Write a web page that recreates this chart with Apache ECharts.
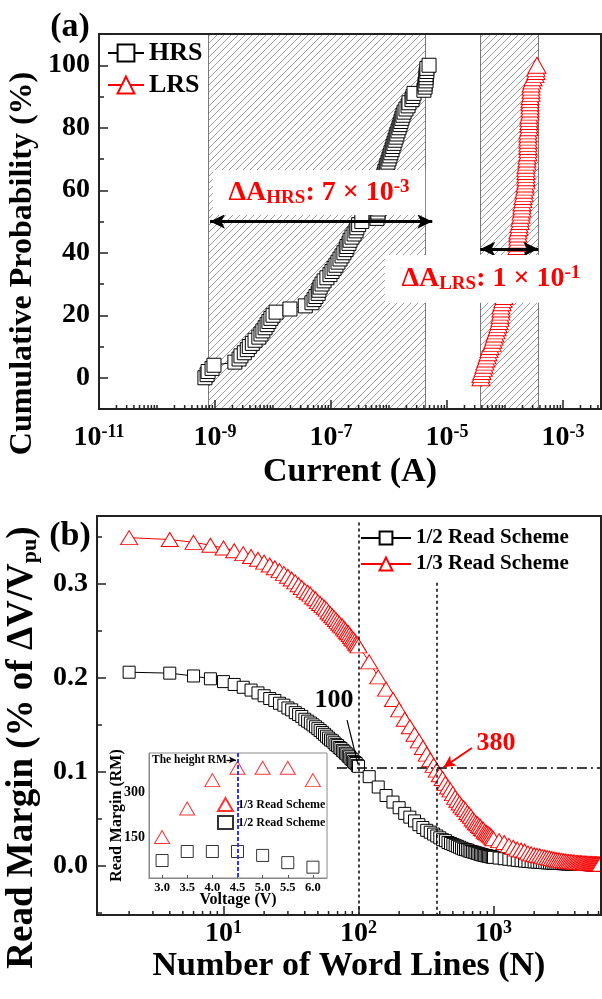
<!DOCTYPE html>
<html>
<head>
<meta charset="utf-8">
<script src="https://cdn.jsdelivr.net/npm/echarts/dist/echarts.min.js"></script>
<style>html,body{margin:0;padding:0;background:#fff}#c{width:602px;height:999px}</style>
</head>
<body>
<div id="c"></div>
<script>
// ================= DATA =================
// Panel (a): cumulative probability (%) vs current (A)
const cumProb = [0,1,2,3,4,5,6,7,8,9,10,11,12,13,14,15,16,17,18,19,20,21,22,23,24,25,26,27,28,29,30,31,32,33,34,35,36,37,38,39,40,41,42,43,44,45,46,47,48,49,50,51,52,53,54,55,56,57,58,59,60,61,62,63,64,65,66,67,68,69,70,71,72,73,74,75,76,77,78,79,80,81,82,83,84,85,86,87,88,89,90,91,92,93,94,95,96,97,98,99,100];
const hrsCurrent = [6.7e-10,7.3e-10,7.6e-10,8.9e-10,9.6e-10,2.2e-9,2.6e-9,2.8e-9,3.2e-9,3.6e-9,
3.9e-9,4.4e-9,4.9e-9,5.7e-9,6.2e-9,6.7e-9,7.3e-9,7.9e-9,8.5e-9,9.2e-9,
1.0e-8,1.13e-8,1.96e-8,3.6e-8,4.7e-8,5.1e-8,5.5e-8,6.0e-8,6.2e-8,6.5e-8,
7.0e-8,7.6e-8,8.5e-8,9.6e-8,1.04e-7,1.13e-7,1.22e-7,1.32e-7,1.43e-7,1.55e-7,
1.67e-7,1.82e-7,1.89e-7,2.04e-7,2.13e-7,2.3e-7,2.5e-7,2.7e-7,2.8e-7,3.0e-7,
3.4e-7,6.2e-7,6.45e-7,6.45e-7,6.7e-7,6.7e-7,7.0e-7,7.0e-7,7.3e-7,7.3e-7,
7.6e-7,7.6e-7,7.9e-7,7.9e-7,8.2e-7,8.2e-7,8.5e-7,8.9e-7,9.2e-7,9.6e-7,
1.0e-6,1.04e-6,1.08e-6,1.13e-6,1.17e-6,1.22e-6,1.27e-6,1.32e-6,1.37e-6,1.43e-6,
1.49e-6,1.55e-6,1.61e-6,1.67e-6,1.74e-6,1.82e-6,1.96e-6,2.13e-6,2.21e-6,2.49e-6,
2.59e-6,2.7e-6,4.0e-6,4.18e-6,4.18e-6,4.35e-6,4.35e-6,4.35e-6,4.5e-6,4.5e-6,4.9e-6];
const lrsCurrent = [3.85e-5,3.85e-5,4.0e-5,4.2e-5,4.35e-5,4.5e-5,4.7e-5,4.9e-5,5.1e-5,5.3e-5,
5.5e-5,6.0e-5,6.2e-5,6.45e-5,6.7e-5,7.0e-5,7.3e-5,7.6e-5,7.9e-5,8.2e-5,
8.2e-5,8.5e-5,8.5e-5,8.5e-5,8.9e-5,9.2e-5,9.6e-5,1.0e-4,1.04e-4,1.08e-4,
1.13e-4,1.17e-4,1.22e-4,1.27e-4,1.27e-4,1.32e-4,1.37e-4,1.43e-4,1.49e-4,1.55e-4,
1.55e-4,1.61e-4,1.61e-4,1.61e-4,1.67e-4,1.67e-4,1.67e-4,1.67e-4,1.74e-4,1.74e-4,
1.82e-4,1.82e-4,1.89e-4,1.89e-4,1.96e-4,1.96e-4,1.96e-4,2.04e-4,2.04e-4,2.13e-4,
2.13e-4,2.21e-4,2.21e-4,2.3e-4,2.3e-4,2.3e-4,2.3e-4,2.3e-4,2.3e-4,2.39e-4,
2.39e-4,2.39e-4,2.49e-4,2.49e-4,2.49e-4,2.49e-4,2.49e-4,2.49e-4,2.49e-4,2.49e-4,
2.59e-4,2.59e-4,2.59e-4,2.59e-4,2.59e-4,2.7e-4,2.7e-4,2.7e-4,2.7e-4,2.7e-4,
2.7e-4,2.81e-4,2.81e-4,2.81e-4,2.81e-4,2.92e-4,3.04e-4,3.29e-4,3.42e-4,3.42e-4,3.56e-4];
const currentRange = [1e-11, 4.52e-3];          // axis range (A)
const hrsWindow = [7.66e-10, 4.23e-6];           // hatched HRS window (A)
const lrsWindow = [3.75e-5, 3.75e-4];            // hatched LRS window (A)
const probRange = [-10, 110];

// Panel (b): read margin vs number of word lines
const wordLines = [2,4,6,8,10,12,14,16,18,20,22,24,26,28,30,32,34,36,38,40,42,44,46,48,50,52,54,56,58,60,62,64,66,68,70,72,74,76,78,80,82,84,86,88,90,92,94,96,98,100,
120,140,160,180,200,220,240,260,280,300,320,340,360,380,400,420,440,460,480,500,520,540,560,580,600,620,640,660,680,700,720,740,760,780,800,820,840,860,880,900,920,940,960,980,1000,
1100,1200,1300,1400,1500,1600,1700,1800,1900,2000,2100,2200,2300,2400,2500,2600,2700,2800,2900,3000,3100,3200,3300,3400,3500,3600,3700,3800,3900,4000,4100,4200,4300,4400,4500,4600,4700,4800,4900,5000,5100,5200,5300,5400,5500,5600,5700,5800,5900,6000,6100,6200];
const rmHalf = [.206,.205,.202,.199,.196,.193,.190,.187,.184,.181,.178,.176,.173,.171,.168,.166,.163,.161,.159,.156,
.154,.152,.150,.148,.146,.144,.142,.140,.138,.136,.134,.133,.131,.129,.128,.126,.125,.123,.122,.120,
.119,.117,.116,.114,.113,.111,.110,.109,.107,.106,
.095,.084,.075,.068,.062,.056,.052,.048,.044,.041,.038,.036,.034,.032,.030,.028,.027,.025,.024,.023,
.022,.021,.020,.019,.018,.0175,.017,.016,.0155,.015,.0145,.014,.0135,.013,.0125,.012,.0117,.0113,.011,.0107,
.0104,.0101,.0098,.0095,.0093,
.0085,.0078,.0072,.0066,.0061,.0057,.0053,.0050,.0047,.0044,.0042,.0040,.0038,.0036,.0034,.0033,.0031,.0030,.0029,.0028,
.0027,.0026,.0025,.0024,.0023,.0023,.0022,.0021,.0021,.0020,.0020,.0019,.0019,.0018,.0018,.0017,.0017,.0016,.0016,.0016,
.0015,.0015,.0015,.0014,.0014,.0014,.0013,.0013,.0013,.0012,.0012,.0012];
const rmThird = [.349,.347,.344,.341,.338,.335,.332,.329,.326,.323,.320,.317,.314,.311,.308,.305,.302,.299,.296,.293,
.291,.289,.286,.284,.281,.279,.277,.275,.273,.270,.268,.266,.264,.262,.260,.258,.256,.255,.253,.251,
.249,.248,.246,.244,.242,.241,.239,.237,.236,.234,
.217,.201,.188,.177,.166,.156,.148,.140,.133,.126,.119,.113,.107,.102,.097,.093,.088,.084,.081,.077,
.073,.070,.067,.064,.062,.060,.057,.055,.053,.050,.048,.046,.045,.043,.042,.040,.039,.037,.036,.035,
.034,.033,.032,.030,.029,
.027,.025,.022,.020,.018,.017,.016,.014,.013,.012,.0115,.011,.010,.0095,.009,.0085,.008,.0075,.007,.0066,
.0063,.006,.0057,.0054,.0051,.0049,.0047,.0045,.0043,.0041,.0039,.0038,.0037,.0035,.0034,.0033,.0032,.0031,.0030,.0029,
.0028,.0027,.0027,.0026,.0025,.0025,.0024,.0024,.0023,.0022,.0022,.0021];
const wordLineRange = [1.156, 6255];
const rmRange = [-0.052, 0.372];
const markN = [100, 380];
const rmLevel = 0.104;

// Inset: read margin vs voltage
const insetVoltage = [3.0,3.5,4.0,4.5,5.0,5.5,6.0];
const insetThird = [151,246,340,381,381,381,340];
const insetHalf = [73,103,103,103,90,66,51];
const insetVRange = [2.74, 6.28];
const insetRMRange = [15, 430];
const insetBestV = 4.5;

// ================= CHART =================
const FONT = 'Liberation Serif';
const T = {fontFamily: FONT, fontWeight: 'bold', color: '#000'};
const lg = v => +Math.log10(v).toFixed(4);
const chart = echarts.init(document.getElementById('c'), null, {renderer: 'canvas'});

function makeHatch() {
  const s = 7, c = document.createElement('canvas');
  c.width = s; c.height = s;
  const g = c.getContext('2d');
  g.strokeStyle = '#9c9c9c'; g.lineWidth = 1;
  g.beginPath();
  g.moveTo(0, s); g.lineTo(s, 0);
  g.moveTo(-1, 1); g.lineTo(1, -1);
  g.moveTo(s - 1, s + 1); g.lineTo(s + 1, s - 1);
  g.stroke();
  return c;
}
const hatch = makeHatch();

function logMinor(lo, hi, skip) {
  const out = [];
  for (let n = Math.floor(lo) - 1; n <= Math.ceil(hi); n++) {
    for (let k = 1; k <= 9; k++) {
      const v = n + Math.log10(k);
      if (k === 1 && skip.includes(n)) continue;
      if (v > lo + 1e-6 && v < hi - 1e-6) out.push(v);
    }
  }
  return out;
}
function tickSeries(xi, yi, values, yBase, len) {
  return {
    type: 'custom', xAxisIndex: xi, yAxisIndex: yi, silent: true, clip: false, z: 11,
    data: values.map(v => [v, yBase]),
    renderItem: (params, api) => {
      const p = api.coord([api.value(0), api.value(1)]);
      return {type: 'line', shape: {x1: p[0], y1: p[1], x2: p[0], y2: p[1] - len},
              style: {stroke: '#222', lineWidth: 1.5}};
    }
  };
}
const sup = {b: {...T, fontSize: 28, lineHeight: 30}, s: {...T, fontSize: 18, lineHeight: 12, verticalAlign: 'top'}};
const axLine = {show: true, onZero: false, lineStyle: {color: '#222', width: 2}};
const axTick = {show: true, inside: true, length: 9, lineStyle: {color: '#222', width: 1.5}};
const minTick = {show: true, splitNumber: 2, length: 5, lineStyle: {color: '#222', width: 1.5}};

const cx = [lg(currentRange[0]), lg(currentRange[1])];
const nx = [lg(wordLineRange[0]), lg(wordLineRange[1])];

const hrsData = hrsCurrent.map((c, i) => [lg(c), cumProb[i]]);
const lrsData = lrsCurrent.map((c, i) => [lg(c), cumProb[i]]);
const halfData = wordLines.map((n, i) => [lg(n), rmHalf[i]]);
const thirdData = wordLines.map((n, i) => [lg(n), rmThird[i]]);
const insetThirdData = insetVoltage.map((v, i) => [v, insetThird[i]]);
const insetHalfData = insetVoltage.map((v, i) => [v, insetHalf[i]]);

const whiteBlack = {color: '#fff', borderColor: '#000', borderWidth: 1};
const whiteRed = {color: '#fff', borderColor: '#ff0000', borderWidth: 1};

const option = {
  animation: false,
  backgroundColor: '#fff',
  textStyle: {fontFamily: FONT},
  grid: [
    {left: 99, top: 34, width: 502, height: 375, show: true, borderColor: '#222', borderWidth: 2, backgroundColor: 'transparent', z: 10, containLabel: false, outerBoundsMode: 'none'},
    {left: 97, top: 516, width: 504, height: 399, show: true, borderColor: '#222', borderWidth: 2, backgroundColor: 'transparent', z: 10, containLabel: false, outerBoundsMode: 'none'},
    {left: 149, top: 753, width: 178, height: 125, show: true, borderColor: '#888', borderWidth: 1, backgroundColor: '#fff', containLabel: false, outerBoundsMode: 'none'}
  ],
  legend: [
    {data: ['HRS', 'LRS'], orient: 'vertical', left: 107, top: 40, padding: 0, itemWidth: 36, itemHeight: 21, itemGap: 6,
     selectedMode: false, textStyle: {...T, fontSize: 26, lineHeight: 26}},
    {data: ['1/2 Read Scheme', '1/3 Read Scheme'], orient: 'vertical', left: 360, top: 527, padding: 0, itemWidth: 50, itemHeight: 16, itemGap: 4,
     selectedMode: false, textStyle: {...T, fontSize: 21, lineHeight: 22}},
    {data: ['inset13', 'inset12'], orient: 'vertical', left: 217, top: 797, padding: 0, itemWidth: 15, itemHeight: 13, itemGap: 3,
     selectedMode: false, formatter: n => (n === 'inset13' ? '1/3 Read Scheme' : '1/2 Read Scheme'),
     textStyle: {...T, fontSize: 12, lineHeight: 14}}
  ],
  xAxis: [
    {gridIndex: 0, type: 'value', min: cx[0], max: cx[1], interval: 2, z: 10,
     axisLine: axLine, axisTick: axTick, splitLine: {show: false},
     axisLabel: {margin: 14, showMinLabel: true, showMaxLabel: false,
                 formatter: v => '{b|10}{s|' + Math.round(v) + '}', rich: sup},
     name: 'Current (A)', nameLocation: 'middle', nameGap: 46, nameMoveOverlap: false,
     nameTextStyle: {...T, fontSize: 34}},
    {gridIndex: 1, type: 'value', min: nx[0], max: nx[1], z: 10,
     axisLine: axLine, axisTick: axTick, splitLine: {show: false},
     axisLabel: {margin: 4, showMinLabel: false, showMaxLabel: false,
                 formatter: v => '{b|10}{s|' + Math.round(v) + '}', rich: sup},
     name: 'Number of Word Lines (N)', nameLocation: 'middle', nameGap: 34, nameMoveOverlap: false,
     nameTextStyle: {...T, fontSize: 34}},
    {gridIndex: 2, type: 'value', min: insetVRange[0], max: insetVRange[1], splitNumber: 7,
     axisLine: {show: true, onZero: false, lineStyle: {color: '#888', width: 1}},
     axisTick: {show: true, inside: true, length: 3, lineStyle: {color: '#555'}}, splitLine: {show: false},
     axisLabel: {...T, fontSize: 12.5, margin: 3, showMinLabel: false, showMaxLabel: false, formatter: v => v.toFixed(1)},
     name: 'Voltage (V)', nameLocation: 'middle', nameGap: 14, nameMoveOverlap: false,
     nameTextStyle: {...T, fontSize: 16}}
  ],
  yAxis: [
    {gridIndex: 0, type: 'value', min: probRange[0], max: probRange[1], z: 10,
     axisLine: axLine, axisTick: axTick, minorTick: minTick, splitLine: {show: false}, minorSplitLine: {show: false},
     axisLabel: {...T, fontSize: 28, margin: 9, showMinLabel: false, showMaxLabel: false},
     name: 'Cumulative Probability (%)', nameLocation: 'middle', nameRotate: 90, nameGap: 60, nameMoveOverlap: false,
     nameTextStyle: {...T, fontSize: 32, padding: [0, 84, 0, 0]}},
    {gridIndex: 1, type: 'value', min: rmRange[0], max: rmRange[1], z: 10,
     axisLine: axLine, axisTick: axTick, minorTick: minTick, splitLine: {show: false}, minorSplitLine: {show: false},
     axisLabel: {...T, fontSize: 28, margin: 9, showMinLabel: false, showMaxLabel: false, formatter: v => v.toFixed(1)},
     name: 'Read Margin (% of ΔV/V{p|pu})', nameLocation: 'middle', nameRotate: 90, nameGap: 56, nameMoveOverlap: false,
     nameTextStyle: {...T, fontSize: 37, padding: [0, 64, 0, 0],
                     rich: {p: {...T, fontSize: 22, lineHeight: 14, verticalAlign: 'bottom'}}}},
    {gridIndex: 2, type: 'value', min: insetRMRange[0], max: insetRMRange[1], interval: 15,
     axisLine: {show: true, onZero: false, lineStyle: {color: '#888', width: 1}}, axisTick: {show: false}, splitLine: {show: false},
     axisLabel: {...T, fontSize: 14, margin: 4, formatter: v => (v === 150 || v === 300 ? String(v) : '')},
     name: 'Read Margin (RM)', nameLocation: 'middle', nameRotate: 90, nameGap: 24, nameMoveOverlap: false,
     nameTextStyle: {...T, fontSize: 16}}
  ],
  series: [
    {name: 'HRS', type: 'line', xAxisIndex: 0, yAxisIndex: 0, data: hrsData, symbol: 'rect', symbolSize: 14,
     showAllSymbol: true, itemStyle: whiteBlack, lineStyle: {color: '#000', width: 1}, emphasis: {disabled: true}, z: 3,
     markArea: {silent: true, z: 1, label: {show: false},
       itemStyle: {color: {image: hatch, repeat: 'repeat'}, borderWidth: 0},
       data: [[{xAxis: lg(hrsWindow[0])}, {xAxis: lg(hrsWindow[1])}],
              [{xAxis: lg(lrsWindow[0])}, {xAxis: lg(lrsWindow[1])}]]},
     markLine: {silent: true, z: 6, symbol: ['arrow', 'arrow'], symbolSize: [11, 15], label: {show: false},
       lineStyle: {color: '#000', width: 3, type: 'solid'},
       data: [[{coord: [lg(hrsWindow[0]) + 0.03, 50]}, {coord: [lg(hrsWindow[1]) + 0.12, 50]}],
              [{coord: [lg(lrsWindow[0]), 41.2]}, {coord: [lg(lrsWindow[1]), 41.2]}]]}},
    {name: 'LRS', type: 'line', xAxisIndex: 0, yAxisIndex: 0, data: lrsData, symbol: 'triangle', symbolSize: [18, 16],
     showAllSymbol: true, itemStyle: whiteRed, lineStyle: {color: '#ff0000', width: 1}, emphasis: {disabled: true}, z: 3,
     markLine: {silent: true, z: 1, symbol: 'none', label: {show: false},
       lineStyle: {color: '#7a7a7a', width: 1, type: 'solid'},
       data: [{xAxis: lg(hrsWindow[0])}, {xAxis: lg(hrsWindow[1])}, {xAxis: lg(lrsWindow[0])}, {xAxis: lg(lrsWindow[1])}]}},
    tickSeries(0, 0, logMinor(cx[0], cx[1], [-11, -9, -7, -5, -3]), probRange[0], 4),
    {name: '1/2 Read Scheme', type: 'line', xAxisIndex: 1, yAxisIndex: 1, data: halfData, symbol: 'rect', symbolSize: 12,
     showAllSymbol: true, itemStyle: whiteBlack, lineStyle: {color: '#000', width: 1}, emphasis: {disabled: true}, z: 3,
     markLine: {silent: true, z: 6, symbol: 'none', label: {show: false},
       data: [
         [{coord: [lg(markN[0]), 0.365], lineStyle: {color: '#000', width: 1.5, type: [3, 3]}}, {coord: [lg(markN[0]), rmRange[0]]}],
         [{coord: [lg(markN[1]), 0.301], lineStyle: {color: '#000', width: 1.5, type: [3, 3]}}, {coord: [lg(markN[1]), rmRange[0]]}],
         [{coord: [1.84, rmLevel], lineStyle: {color: '#000', width: 1.5, type: [10, 4, 2, 4]}}, {coord: [nx[1], rmLevel]}],
         [{coord: [1.915, 0.155], lineStyle: {color: '#000', width: 1.2, type: 'solid'}}, {coord: [1.996, 0.108]}]
       ]}},
    {name: '1/3 Read Scheme', type: 'line', xAxisIndex: 1, yAxisIndex: 1, data: thirdData, symbol: 'triangle', symbolSize: [17, 14],
     showAllSymbol: true, itemStyle: whiteRed, lineStyle: {color: '#ff0000', width: 1}, emphasis: {disabled: true}, z: 4,
     markLine: {silent: true, z: 6, symbol: 'none', label: {show: false},
       data: [
         [{coord: [2.84, 0.1255], lineStyle: {color: '#ff0000', width: 2, type: 'solid', curveness: 0.2}},
          {coord: [2.63, 0.105], symbol: 'arrow', symbolSize: [9, 12]}]
       ]}},
    tickSeries(1, 1, logMinor(nx[0], nx[1], [1, 2, 3]), rmRange[0], 4),
    {name: 'inset13', type: 'scatter', xAxisIndex: 2, yAxisIndex: 2, data: insetThirdData, symbol: 'triangle', symbolSize: [15, 13],
     itemStyle: whiteRed, emphasis: {disabled: true}, z: 5,
     markLine: {silent: true, z: 6, symbol: 'none', label: {show: false},
       data: [
         [{coord: [insetBestV, insetRMRange[1]], lineStyle: {color: '#3333ff', width: 2, type: [4, 2]}}, {coord: [insetBestV, insetRMRange[0]]}],
         [{coord: [4.28, 407], lineStyle: {color: '#000', width: 1.3, type: 'solid'}}, {coord: [4.47, 407], symbol: 'arrow', symbolSize: [5, 7]}]
       ]}},
    {name: 'inset12', type: 'scatter', xAxisIndex: 2, yAxisIndex: 2, data: insetHalfData, symbol: 'rect', symbolSize: 12,
     itemStyle: whiteBlack, emphasis: {disabled: true}, z: 5}
  ]
};
chart.setOption(option);

// ---------- annotations positioned through the axes ----------
const px = (g, p) => chart.convertToPixel({gridIndex: g}, p);
function whiteBox(g, x0, y0, x1, y1) {
  const a = px(g, [x0, y0]), b = px(g, [x1, y1]);
  return {type: 'rect', z: 100, silent: true,
    shape: {x: Math.min(a[0], b[0]), y: Math.min(a[1], b[1]), width: Math.abs(b[0] - a[0]), height: Math.abs(b[1] - a[1])},
    style: {fill: '#fff'}};
}
function richText(pos, text, rich, align) {
  return {type: 'text', z: 101, silent: true, x: pos[0], y: pos[1],
    style: {text: text, rich: rich, align: align || 'center', verticalAlign: 'middle',
            textAlign: align || 'center', textVerticalAlign: 'middle'}};
}
const red = {fontFamily: FONT, fontWeight: 'bold', fill: '#ff0000', color: '#ff0000'};
const blk = {fontFamily: FONT, fontWeight: 'bold', fill: '#000', color: '#000'};
const dRich = {
  a: {...red, fontSize: 28, lineHeight: 30},
  s: {...red, fontSize: 19, lineHeight: 16, verticalAlign: 'bottom'},
  p: {...red, fontSize: 19, lineHeight: 16, verticalAlign: 'top'}
};
const hrsBox = [lg(9.2e-10), 52.1, lg(4.2e-6), 66.5];
const lrsBox = [lg(8.5e-7), 24.0, lg(2.9e-3), 39.3];
const graphics = [
  whiteBox(0, hrsBox[0], hrsBox[1], hrsBox[2], hrsBox[3]),
  richText(px(0, [(hrsBox[0] + hrsBox[2]) / 2, (hrsBox[1] + hrsBox[3]) / 2]), '{a|ΔA}{s|HRS}{a|: 7 × 10}{p|-3}', dRich),
  whiteBox(0, lrsBox[0], lrsBox[1], lrsBox[2], lrsBox[3]),
  richText(px(0, [lg(5.7e-5), (lrsBox[1] + lrsBox[3]) / 2]), '{a|ΔA}{s|LRS}{a|: 1 × 10}{p|-1}', dRich),
  richText([70, 27], '{a|(a)}', {a: {...blk, fontSize: 34}}),
  richText([70, 536], '{a|(b)}', {a: {...blk, fontSize: 34}}),
  richText(px(1, [1.818, 0.1766]), '{a|100}', {a: {...blk, fontSize: 26}}),
  richText(px(1, [3.019, 0.131]), '{a|380}', {a: {...red, fontSize: 26}}),
  richText(px(2, [2.80, 407]), '{a|The height RM}', {a: {...blk, fontSize: 11.5}}, 'left')
];
chart.setOption({graphic: graphics});
</script>
</body>
</html>
